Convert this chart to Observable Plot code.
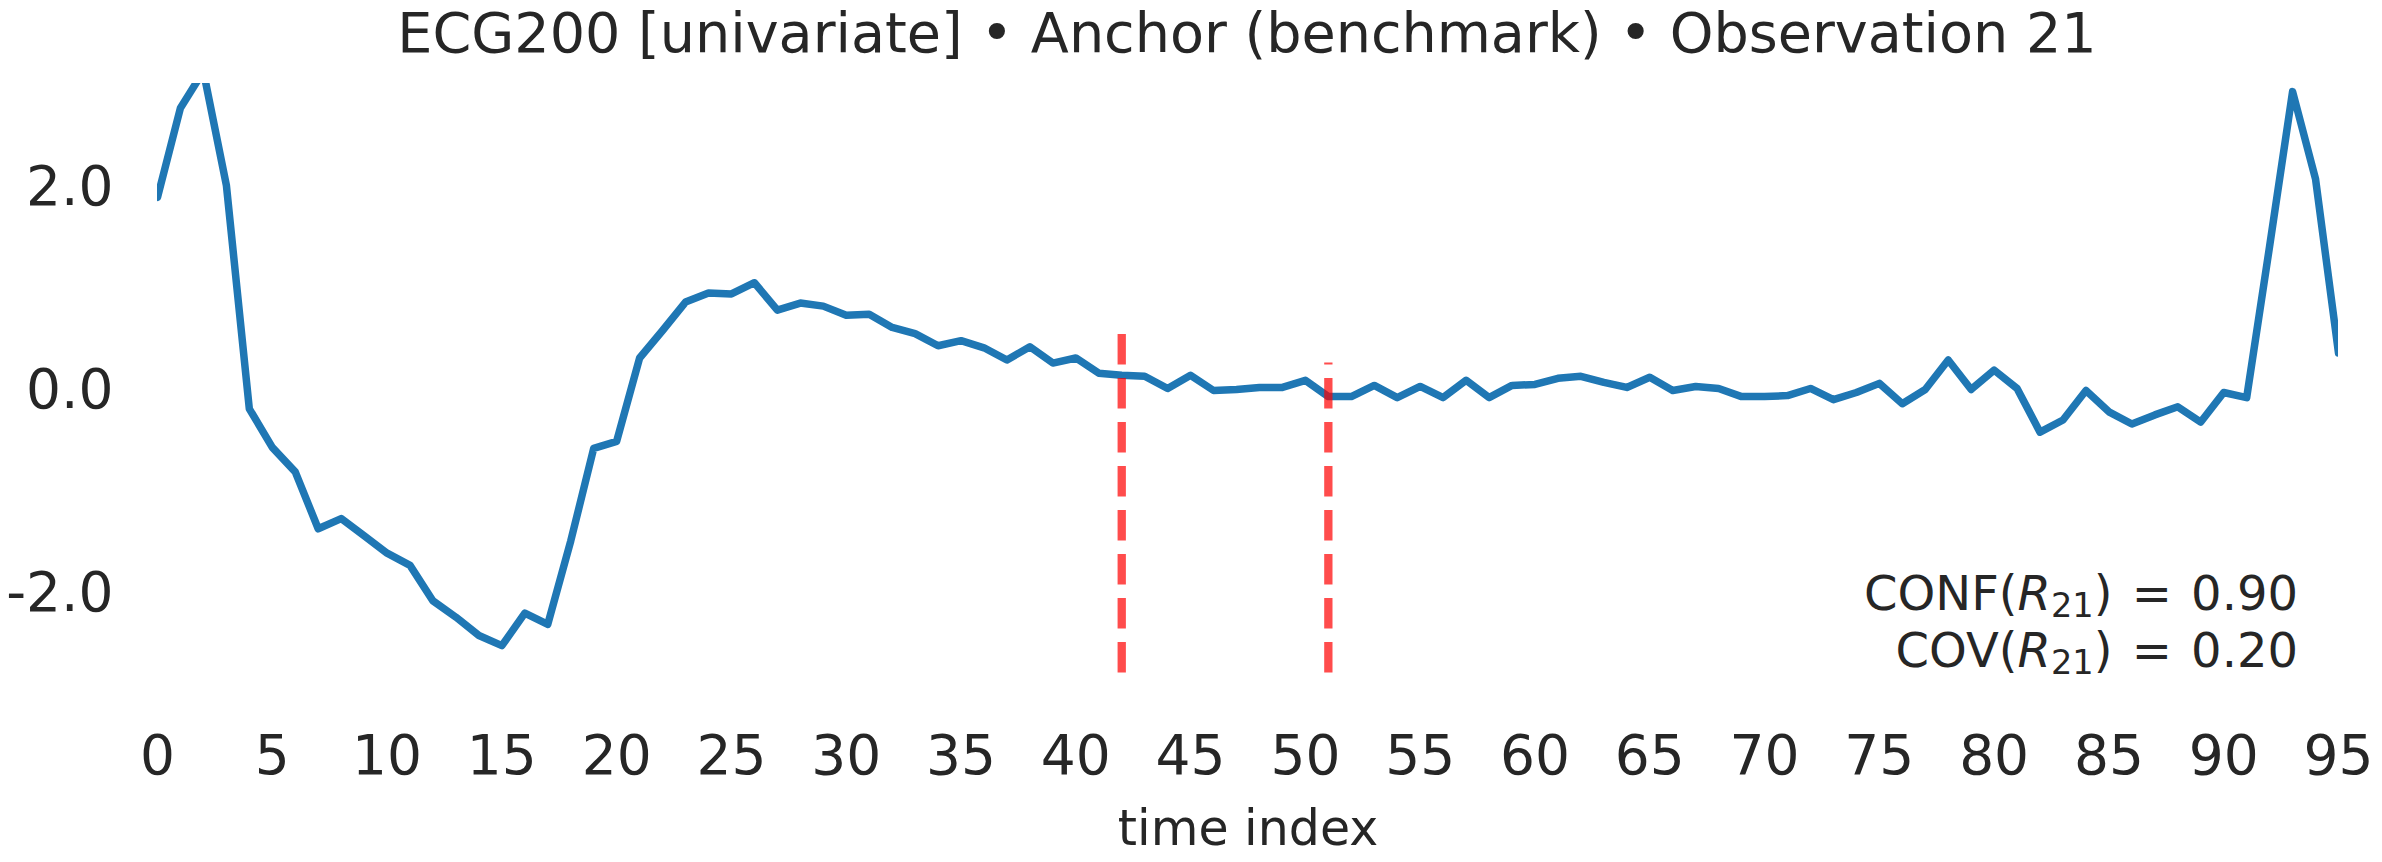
<!DOCTYPE html>
<html>
<head>
<meta charset="utf-8">
<script src="https://cdn.jsdelivr.net/npm/d3@7"></script>
<script src="https://cdn.jsdelivr.net/npm/@observablehq/plot@0.6"></script>
<style>
  html, body { margin: 0; padding: 0; background: #ffffff; }
  #wrap { position: relative; width: 2382px; height: 862px; overflow: hidden;
          font-family: "DejaVu Sans", sans-serif; color: #262626; }
  #title { position: relative; height: 70px; width: 2382px; }
  #title span { position: absolute; left: 1247px; top: 0; transform: translateX(-50%);
                font-size: 55.6px; line-height: 65px; white-space: nowrap; }
  #chart svg { display: block; }
</style>
</head>
<body>
<div id="wrap">
  <div id="title"><span id="titleText"></span></div>
  <div id="chart"></div>
</div>
<script>
// ---- data ----
const titleText = "ECG200 [univariate] \u2022 Anchor (benchmark) \u2022 Observation 21";
const xLabel = "time index";
const series = [
  1.90, 2.78, 3.14, 2.02, -0.18, -0.56, -0.80, -1.36, -1.26, -1.43,
  -1.60, -1.72, -2.07, -2.23, -2.41, -2.51, -2.19, -2.30, -1.48, -0.57,
  -0.50, 0.32, 0.59, 0.87, 0.96, 0.95, 1.06, 0.79, 0.86, 0.83,
  0.74, 0.75, 0.62, 0.56, 0.44, 0.49, 0.42, 0.30, 0.43, 0.27,
  0.32, 0.17, 0.15, 0.14, 0.02, 0.15, 0.00, 0.01, 0.03, 0.03,
  0.10, -0.06, -0.06, 0.05, -0.07, 0.04, -0.07, 0.10, -0.07, 0.05,
  0.06, 0.12, 0.14, 0.08, 0.03, 0.13, 0.00, 0.04, 0.02, -0.06,
  -0.06, -0.05, 0.02, -0.09, -0.02, 0.07, -0.13, 0.01, 0.30, 0.01,
  0.20, 0.02, -0.41, -0.29, 0.00, -0.21, -0.33, -0.24, -0.16, -0.31,
  -0.02, -0.07, 1.42, 2.94, 2.08, 0.37
];
const markerX = [42, 51];
const markerBottom = [-2.78, -2.78];
const markerTop = [0.55, 0.27];
const xTicks = [0, 5, 10, 15, 20, 25, 30, 35, 40, 45, 50, 55, 60, 65, 70, 75, 80, 85, 90, 95];
const yTicks = [-2, 0, 2];
const xDomain = [0, 95];
const yDomain = [-3.02, 3.02];
const annoNames = ["CONF", "COV"];
const annoValues = ["0.90", "0.20"];
const annoSub = "21";

// ---- build ----
document.getElementById("titleText").textContent = titleText;

const points = series.map((v, i) => ({t: i, v}));
const markers = markerX.map((x, i) => ({x, y1: markerBottom[i], y2: markerTop[i]}));

const W = 2382, H = 792;
const chart = Plot.plot({
  width: W,
  height: H,
  marginTop: 13,
  marginBottom: 165,
  marginLeft: 157,
  marginRight: 44,
  style: {fontFamily: "DejaVu Sans, sans-serif", color: "#262626", background: "#ffffff"},
  x: {domain: xDomain},
  y: {domain: yDomain},
  marks: [
    Plot.axisX({ticks: xTicks, tickSize: 0, tickPadding: 37, fontSize: 55, label: null, tickFormat: d => String(d)}),
    Plot.axisY({ticks: yTicks, tickSize: 0, tickPadding: 44, fontSize: 55, label: null, tickFormat: d => d.toFixed(1)}),
    Plot.line(points, {x: "t", y: "v", stroke: "#1f77b4", strokeWidth: 7.5, strokeLinejoin: "round", clip: true}),
    Plot.ruleX(markers, {x: "x", y1: "y1", y2: "y2", stroke: "red", strokeOpacity: 0.7, strokeWidth: 8.3, strokeDasharray: "30.7,13.3"}),
    Plot.text([xLabel], {frameAnchor: "bottom", text: d => d, lineAnchor: "top", dy: 113, fontSize: 49, fill: "#262626"})
  ]
});
document.getElementById("chart").appendChild(chart);

// ---- annotation (axes-anchored text with italic R and subscript) ----
const xs = chart.scale("x"), ys = chart.scale("y");
const xRight = xs.apply(xDomain[1]) - 40;
const yBottom = ys.apply(yDomain[0]);
const baselines = [yBottom - 87, yBottom - 30];
const svg = d3.select(chart);
const g = svg.append("g").attr("font-family", "DejaVu Sans, sans-serif").attr("font-size", 48).attr("fill", "#262626");
annoNames.forEach((name, i) => {
  const t = g.append("text").attr("x", xRight).attr("y", baselines[i]).attr("text-anchor", "end");
  t.append("tspan").text(name + "(");
  t.append("tspan").attr("font-style", "italic").text("R");
  t.append("tspan").attr("font-size", 33.6).attr("dy", 7).text(annoSub);
  t.append("tspan").attr("dy", -7).text(") ");
  t.append("tspan").attr("dx", 4).text("=");
  t.append("tspan").attr("dx", 4).text(" " + annoValues[i]);
});
</script>
</body>
</html>
